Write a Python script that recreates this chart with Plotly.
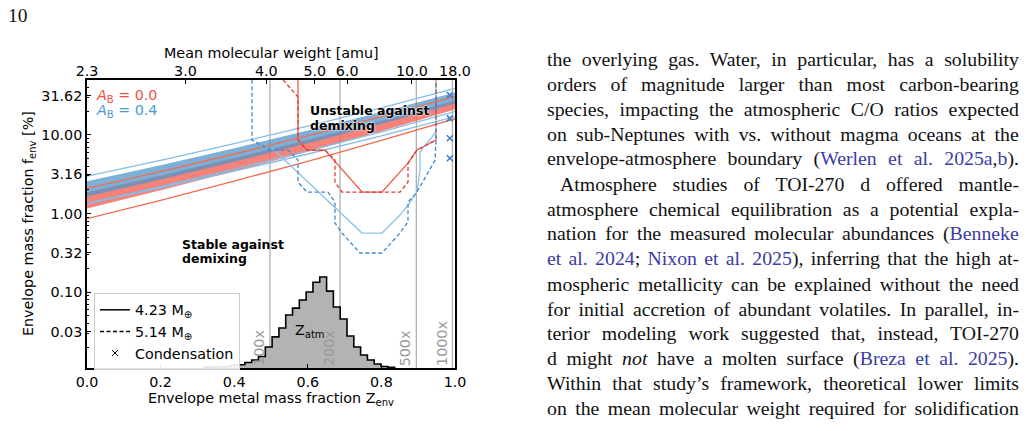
import plotly.graph_objects as go

# ---------------- data ----------------
z_grid = [0.0, 0.2, 0.4, 0.6, 0.8, 1.0]
blue_top = [2.98, 4.74, 7.76, 12.89, 22.05, 38.9]
blue_band_hi = [2.57, 4.11, 6.77, 11.32, 19.49, 34.56]
blue_band_lo = [1.65, 2.70, 4.56, 7.81, 13.75, 24.97]
blue_low1 = [1.34, 2.19, 3.66, 6.24, 10.92, 19.72]
blue_low2 = [1.34, 2.12, 3.46, 5.71, 9.71, 17.01]
red_up = [2.09, 3.40, 5.71, 9.71, 17.01, 30.7]
red_band_hi = [1.86, 3.02, 5.07, 8.63, 15.11, 27.29]
red_band_lo = [1.16, 1.97, 3.44, 6.09, 11.12, 20.92]
red_low = [0.863, 1.47, 2.59, 4.61, 8.48, 16.04]

red_solid_z = [0.5734, 0.5734, 0.5978, 0.6467, 0.7473, 0.8016, 0.8723, 0.8967, 0.9484]
red_solid_f = [50, 8.59, 6.41, 6.41, 1.875, 1.875, 4.38, 6.41, 8.59]
red_dash_z = [0.5326, 0.5734, 0.5734, 0.5978, 0.6467, 0.6739, 0.6739, 0.6929, 0.8505,
              0.8723, 0.8723, 0.8967, 0.9484, 0.9484]
red_dash_f = [50, 30.2, 8.59, 6.41, 6.41, 4.78, 2.51, 1.875, 1.875, 2.51, 4.38, 6.41, 8.59, 50]
blue_solid_z = [0.5027, 0.7473, 0.8016, 0.8505, 0.8723, 0.8967, 0.9049, 0.9049, 0.9484]
blue_solid_f = [6.80, 0.565, 0.565, 0.957, 1.28, 1.875, 3.57, 6.04, 10.86]
blue_dash_z = [0.4484, 0.4484, 0.4973, 0.5462, 0.5734, 0.5734, 0.5978, 0.6549, 0.6739, 0.6739,
               0.6929, 0.7418, 0.8016, 0.8505, 0.8723, 0.8723, 0.8967, 0.9457, 0.9484, 0.9484]
blue_dash_f = [50, 8.59, 6.41, 6.41, 4.78, 2.51, 1.875, 1.875, 1.40, 0.757,
               0.565, 0.315, 0.315, 0.565, 0.780, 1.40, 1.875, 4.78, 8.59, 50]

cond_z = [0.986, 0.986, 0.986, 0.986]
cond_f = [32.1, 16.2, 9.04, 5.03]

met_z = [0.497, 0.6875, 0.895, 0.993]
met_labels = ["100x", "200x", "500x", "1000x"]

hist_start = 0.318
hist_bin_width = 0.0185
hist_counts = [3, 3, 3, 5, 10, 12, 19, 28, 40, 73, 108, 139, 184, 208, 236, 264, 298,
               316, 267, 212, 170, 111, 73, 45, 28, 14, 5, 2]

x_tickvals = [0.0, 0.2, 0.4, 0.6, 0.8, 1.0]
x_ticktext = ["0.0", "0.2", "0.4", "0.6", "0.8", "1.0"]
mu_ticks = [2.3, 3.0, 4.0, 5.0, 6.0, 10.0, 18.0]
mu_ticktext = ["2.3", "3.0", "4.0", "5.0", "6.0", "10.0", "18.0"]
mu_h, mu_w = 2.3, 18.0
y_tickvals = [10 ** -1.5, 0.1, 10 ** -0.5, 1.0, 10 ** 0.5, 10.0, 10 ** 1.5]
y_ticktext = ["0.03", "0.10", "0.32", "1.00", "3.16", "10.00", "31.62"]

LINK = "#3b3ba6"
body_lines = [
    "the overlying gas. Water, in particular, has a solubility",
    "orders of magnitude larger than most carbon-bearing",
    "species, impacting the atmospheric C/O ratios expected",
    "on sub-Neptunes with vs. without magma oceans at the",
    f"envelope-atmosphere boundary (<span style='color:{LINK}'>Werlen et al. 2025a</span>,<span style='color:{LINK}'>b</span>).",
    "Atmosphere studies of TOI-270 d offered mantle-",
    "atmosphere chemical equilibration as a potential expla-",
    f"nation for the measured molecular abundances (<span style='color:{LINK}'>Benneke</span>",
    f"<span style='color:{LINK}'>et al. 2024</span>; <span style='color:{LINK}'>Nixon et al. 2025</span>), inferring that the high at-",
    "mospheric metallicity can be explained without the need",
    "for initial accretion of abundant volatiles. In parallel, in-",
    "terior modeling work suggested that, instead, TOI-270",
    f"d might <i>not</i> have a molten surface (<span style='color:{LINK}'>Breza et al. 2025</span>).",
    "Within that study\u2019s framework, theoretical lower limits",
    "on the mean molecular weight required for solidification",
]
body_indent = [0, 0, 0, 0, 0, 13, 0, 0, 0, 0, 0, 0, 0, 0, 0]

# ---------------- styling ----------------
FONT = "DejaVu Sans"
FS = 14.3
RED_LINE = "#f26c4f"
BLUE_LINE = "#86bde5"
RED_SOLID = "#f0604a"
RED_DASH = "#e8373a"
BLUE_SOLID = "#8cc3ea"
BLUE_DASH = "#3a8ad0"

L, R, T, B = 87, 455, 80, 368
W, H = 1034, 431


def pxx(px):
    return (px - L) / (R - L)


def pxy(py):
    return (B - py) / (B - T)


fig = go.Figure()

# bands
fig.add_trace(go.Scatter(x=z_grid, y=red_band_lo, mode="lines", line=dict(width=0),
                         showlegend=False, hoverinfo="skip"))
fig.add_trace(go.Scatter(x=z_grid, y=red_band_hi, mode="lines", line=dict(width=0),
                         fill="tonexty", fillcolor="rgba(243,100,88,0.8)",
                         showlegend=False, hoverinfo="skip"))
fig.add_trace(go.Scatter(x=z_grid, y=blue_band_lo, mode="lines", line=dict(width=0),
                         showlegend=False, hoverinfo="skip"))
fig.add_trace(go.Scatter(x=z_grid, y=blue_band_hi, mode="lines", line=dict(width=0),
                         fill="tonexty", fillcolor="rgba(82,148,202,0.75)",
                         showlegend=False, hoverinfo="skip"))

for arr, col in [(red_up, RED_LINE), (red_low, RED_LINE),
                 (blue_top, BLUE_LINE), (blue_low1, BLUE_LINE), (blue_low2, BLUE_LINE)]:
    fig.add_trace(go.Scatter(x=z_grid, y=arr, mode="lines", line=dict(color=col, width=1.3),
                             showlegend=False, hoverinfo="skip"))

# stability boundaries
fig.add_trace(go.Scatter(x=red_solid_z, y=red_solid_f, mode="lines",
                         line=dict(color=RED_SOLID, width=1.3), showlegend=False))
fig.add_trace(go.Scatter(x=blue_solid_z, y=blue_solid_f, mode="lines",
                         line=dict(color=BLUE_SOLID, width=1.3), showlegend=False))
fig.add_trace(go.Scatter(x=red_dash_z, y=red_dash_f, mode="lines",
                         line=dict(color=RED_DASH, width=1.3, dash="4px,2.5px"), showlegend=False))
fig.add_trace(go.Scatter(x=blue_dash_z, y=blue_dash_f, mode="lines",
                         line=dict(color=BLUE_DASH, width=1.3, dash="4px,2.5px"), showlegend=False))

# condensation markers
fig.add_trace(go.Scatter(x=cond_z, y=cond_f, mode="markers",
                         marker=dict(symbol="x-thin", size=6, line=dict(width=1.5, color="#3a7fc2")),
                         showlegend=False))

# histogram (on overlaid linear axis)
hist_edges = [hist_start + i * hist_bin_width for i in range(len(hist_counts) + 1)]
hist_centers = [(hist_edges[i] + hist_edges[i + 1]) / 2 for i in range(len(hist_counts))]
fig.add_trace(go.Bar(x=hist_centers, y=hist_counts, width=hist_bin_width,
                     marker=dict(color="#b3b3b3", line=dict(width=0)),
                     xaxis="x2", yaxis="y2", showlegend=False))
sx, sy = [hist_edges[0]], [0]
for i, c in enumerate(hist_counts):
    sx += [hist_edges[i], hist_edges[i + 1]]
    sy += [c, c]
sx.append(hist_edges[-1])
sy.append(0)
fig.add_trace(go.Scatter(x=sx, y=sy, mode="lines", line=dict(color="black", width=1.6),
                         xaxis="x2", yaxis="y2", showlegend=False))

# legend entries
fig.add_trace(go.Scatter(x=[None], y=[None], mode="lines", line=dict(color="black", width=1.5),
                         name="4.23 M<sub>\u2295</sub>"))
fig.add_trace(go.Scatter(x=[None], y=[None], mode="lines",
                         line=dict(color="black", width=1.5, dash="4px,2.5px"),
                         name="5.14 M<sub>\u2295</sub>"))
fig.add_trace(go.Scatter(x=[None], y=[None], mode="markers",
                         marker=dict(symbol="x-thin", size=6, line=dict(width=1, color="black")),
                         name="Condensation"))

# metallicity lines
for zv, lab in zip(met_z, met_labels):
    fig.add_shape(type="line", x0=zv, x1=zv, y0=0, y1=1, xref="x", yref="paper",
                  line=dict(color="#b0b0b0", width=1.3), layer="below")
    fig.add_annotation(x=zv, y=0, xref="x", yref="paper", text=lab, textangle=-90,
                       showarrow=False, xanchor="right", yanchor="bottom", xshift=-1,
                       font=dict(family=FONT, size=FS, color="#9a9a9a"))


def txt(x, y, text, size=FS, color="black", xanchor="left", yanchor="middle", family=FONT,
        angle=0, weight="normal", shadow=None):
    f = dict(family=family, size=size, color=color, weight=weight)
    if shadow:
        f["shadow"] = shadow
    fig.add_annotation(x=x, y=y, xref="paper", yref="paper", text=text, showarrow=False,
                       xanchor=xanchor, yanchor=yanchor, textangle=angle, font=f)


# chart texts
txt(pxx(94), pxy(96), "<i>A</i><sub>B</sub> = 0.0", color="#f0503c")
txt(pxx(94), pxy(111), "<i>A</i><sub>B</sub> = 0.4", color="#4a9ad6")
txt(pxx(308), pxy(111), "Unstable against", size=12.5, weight="bold",
    shadow="0 0 2px white, 0 0 2px white")
txt(pxx(308), pxy(125), "demixing", size=12.5, weight="bold",
    shadow="0 0 2px white, 0 0 2px white")
txt(pxx(180), pxy(244), "Stable against", size=12.5, weight="bold")
txt(pxx(180), pxy(258), "demixing", size=12.5, weight="bold")
txt(pxx(310), pxy(331), "Z<sub>atm</sub>", xanchor="center")
txt(pxx(271), pxy(399), "Envelope metal mass fraction Z<sub>env</sub>", xanchor="center")
txt(pxx(271), pxy(53), "Mean molecular weight [amu]", xanchor="center")
txt(pxx(29), pxy(224), "Envelope mass fraction f<sub>env</sub> [%]", xanchor="center", angle=-90)

# page texts
txt(pxx(6), pxy(15), "10", size=19.5, family="Liberation Serif", color="#111111")
for k, line in enumerate(body_lines):
    txt(pxx(545 + body_indent[k]), pxy(59 + 24.95 * k), line, size=19.8,
        family="Liberation Serif", color="#111111")

mu_pos = [(1 / mu_h - 1 / m) / (1 / mu_h - 1 / mu_w) for m in mu_ticks]
minor_vals = [m * 10 ** e for e in range(-2, 2) for m in range(2, 10)]

axis_common = dict(showgrid=False, zeroline=False, ticks="inside", ticklen=4, tickwidth=1,
                   tickcolor="black", tickfont=dict(family=FONT, size=FS, color="black"))

fig.update_layout(
    width=W, height=H,
    margin=dict(l=L, r=W - R, t=T, b=H - B),
    paper_bgcolor="white", plot_bgcolor="white",
    font=dict(family=FONT, size=FS, color="black"),
    showlegend=True,
    legend=dict(x=pxx(94), y=pxy(293), xanchor="left", yanchor="top", traceorder="normal",
                bgcolor="rgba(255,255,255,0.9)", bordercolor="#cccccc", borderwidth=1,
                font=dict(family=FONT, size=FS), itemwidth=30, tracegroupgap=0),
    xaxis=dict(range=[0, 1], tickvals=x_tickvals, ticktext=x_ticktext, showline=True,
               mirror=True, linecolor="black", linewidth=1.8, **axis_common),
    xaxis2=dict(range=[0, 1], overlaying="x", side="top", anchor="y", tickvals=mu_pos,
                ticktext=mu_ticktext, showline=False, **axis_common),
    yaxis=dict(type="log", range=[-1.963, 1.697], tickvals=y_tickvals, ticktext=y_ticktext,
               showline=True, mirror=True, linecolor="black", linewidth=1.8,
               minor=dict(ticks="inside", ticklen=2.5, tickvals=minor_vals, tickcolor="black"),
               **axis_common),
    yaxis2=dict(range=[0, 1000], overlaying="y", side="right", visible=False),
    bargap=0,
)

js = """
var gd = document.querySelector('.js-plotly-plot');
var texts = gd.querySelectorAll('g.annotation text.annotation-text');
texts.forEach(function(t){
  var ff = t.style.fontFamily || '';
  if (ff.indexOf('Liberation Serif') < 0) return;
  var s = t.textContent;
  var n = (s.match(/ /g) || []).length;
  if (n === 0) return;
  t.style.wordSpacing = '0px';
  var r = t.getBoundingClientRect();
  var target = 1027 - r.left;
  var extra = (target - r.width) / n;
  t.style.wordSpacing = extra + 'px';
  var r2 = t.getBoundingClientRect();
  var dx = r.left - r2.left;
  if (Math.abs(dx) > 0.05) {
    var x0 = parseFloat(t.getAttribute('x') || '0');
    t.setAttribute('x', x0 + dx);
  }
});
"""

fig.write_html("out.html", post_script=js, config={"responsive": False, "displayModeBar": False})
